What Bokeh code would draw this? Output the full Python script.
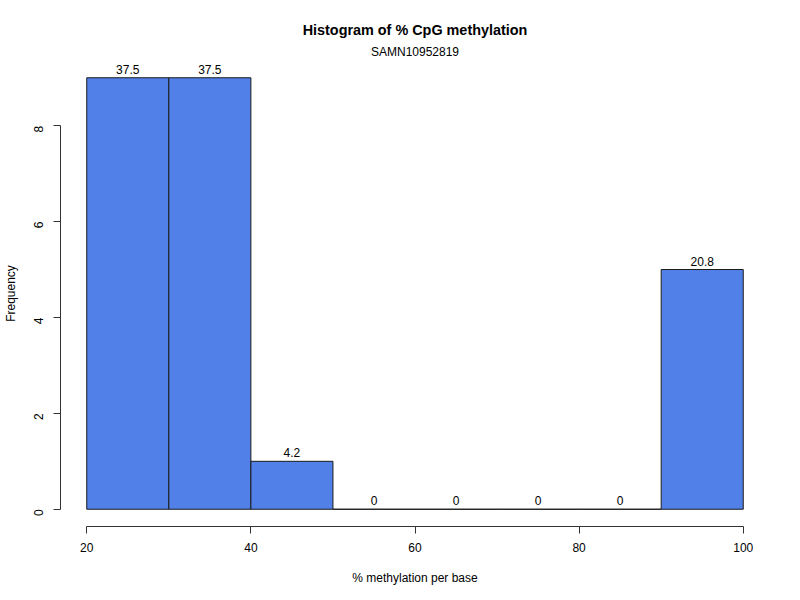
import math
from bokeh.plotting import figure
from bokeh.models import ColumnDataSource, FixedTicker, Range1d, Title
from bokeh.core.properties import value
from bokeh.embed import file_html
from bokeh.resources import INLINE

# ---- data ----
title_text = "Histogram of % CpG methylation"
subtitle_text = "SAMN10952819"
x_label = "% methylation per base"
y_label = "Frequency"
breaks = [20, 30, 40, 50, 60, 70, 80, 90, 100]
counts = [9, 9, 1, 0, 0, 0, 0, 5]
x_ticks = [20, 40, 60, 80, 100]
y_ticks = [0, 2, 4, 6, 8]

total = sum(counts)
pct_labels = [f"{round(c / total * 100, 1):g}" for c in counts]

src = ColumnDataSource(dict(
    left=breaks[:-1],
    right=breaks[1:],
    top=counts,
    bottom=[0] * len(counts),
    mid=[(a + b) / 2 for a, b in zip(breaks[:-1], breaks[1:])],
    lab=pct_labels,
))

FONT = "Liberation Sans"
xr_pad = (breaks[-1] - breaks[0]) * 0.04
yr_max = max(counts)
yr_pad = yr_max * 0.04

p = figure(width=800, height=600, output_backend="svg", toolbar_location=None,
           x_range=Range1d(breaks[0] - xr_pad, breaks[-1] + xr_pad),
           y_range=Range1d(-yr_pad, yr_max + yr_pad),
           min_border_left=60, min_border_right=31, min_border_top=60, min_border_bottom=74)
p.title.text = ""
p.title.visible = False
p.outline_line_color = None
p.grid.visible = False
p.background_fill_color = "white"
p.border_fill_color = "white"

p.quad(left="left", right="right", top="top", bottom="bottom", source=src,
       fill_color="#5280E9", line_color="#1a1a1a", line_width=1)

p.text(x="mid", y="top", text="lab", source=src, text_align="center",
       text_baseline="bottom", y_offset=-4, text_font=value(FONT),
       text_font_size="12px", text_color="black", level="overlay")

for ax, ticks in ((p.xaxis[0], x_ticks), (p.yaxis[0], y_ticks)):
    ax.ticker = FixedTicker(ticks=ticks)
    ax.bounds = (ticks[0], ticks[-1])
    ax.axis_line_color = "#333333"
    ax.major_tick_line_color = "#333333"
    ax.major_tick_out = 7
    ax.major_tick_in = 0
    ax.minor_tick_line_color = None
    ax.major_label_text_font = FONT
    ax.major_label_text_font_size = "12px"
    ax.major_label_text_color = "black"
    ax.axis_label_text_font = FONT
    ax.axis_label_text_font_size = "12px"
    ax.axis_label_text_font_style = "normal"
    ax.axis_label_text_color = "black"
    ax.major_label_standoff = 9

p.xaxis.axis_label = x_label
p.yaxis.axis_label = y_label
p.yaxis.major_label_orientation = math.pi / 2
p.yaxis.major_label_standoff = 15
p.xaxis.axis_label_standoff = 16
p.yaxis.axis_label_standoff = 9

p.add_layout(Title(text=subtitle_text, align="center", text_font=FONT,
                   text_font_size="12px", text_font_style="normal",
                   text_color="black", standoff=3), "above")
p.add_layout(Title(text=title_text, align="center", text_font=FONT,
                   text_font_size="14.4px", text_font_style="bold",
                   text_color="black", standoff=7), "above")

open("out.html", "w").write(file_html(p, INLINE))
